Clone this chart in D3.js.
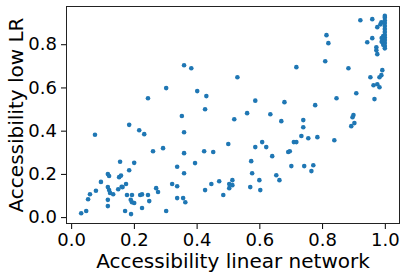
<!DOCTYPE html>
<html>
<head>
<meta charset="utf-8">
<script src="https://cdn.jsdelivr.net/npm/d3@7"></script>
<style>
  body { margin: 0; background: #fff; }
  text { font-family: "DejaVu Sans", sans-serif; fill: #000; }
</style>
</head>
<body>
<svg id="chart"></svg>
<script>
// accessibility of each node: linear network (x) vs low LR (y)
const linearAcc = [
  0.245, 0.185, 0.217, 0.233, 0.076, 0.261, 0.293, 0.156, 0.201, 0.185,
  0.338, 0.117, 0.121, 0.153, 0.159, 0.095, 0.175, 0.161, 0.164, 0.117,
  0.150, 0.121, 0.079, 0.060, 0.124, 0.134, 0.271, 0.277, 0.322, 0.338,
  0.178, 0.194, 0.220, 0.226, 0.245, 0.054, 0.117, 0.190, 0.194, 0.201,
  0.249, 0.338, 0.117, 0.226, 0.048, 0.032, 0.172, 0.191, 0.303,
  0.587, 0.680, 0.353, 0.427, 0.561, 0.635, 0.520, 0.670, 0.360, 0.501,
  0.424, 0.453, 0.360, 0.609, 0.587, 0.622, 0.692, 0.697, 0.641, 0.574,
  0.395, 0.702, 0.360, 0.577, 0.654, 0.664, 0.600, 0.514, 0.472, 0.447,
  0.504, 0.514, 0.504, 0.571, 0.427, 0.603, 0.485, 0.357, 0.364,
  0.778, 0.740, 0.740, 0.900, 0.897, 0.903, 0.893, 0.734, 0.756, 0.785,
  0.839, 0.710, 0.718, 0.743, 0.772, 0.766,
  0.360, 0.383, 0.303, 0.402, 0.431,
  0.814, 0.820, 0.810, 0.718, 0.530, 0.846,
  0.922, 0.960, 0.976, 0.986, 0.989, 0.960, 0.944, 0.973, 0.973, 0.976,
  0.884, 0.992, 0.989, 0.983, 0.954, 0.964, 0.976, 0.983, 0.909, 0.967,
  1.000, 1.000, 1.000, 1.000, 1.000, 1.000, 1.000, 1.000, 1.000, 1.000,
  1.000, 1.000, 1.000, 0.995, 0.995, 0.995, 0.990, 0.990
];
const lowLrAcc = [
  0.550, 0.427, 0.402, 0.384, 0.381, 0.305, 0.319, 0.256, 0.251, 0.217,
  0.233, 0.199, 0.190, 0.185, 0.192, 0.163, 0.153, 0.140, 0.139, 0.139,
  0.129, 0.125, 0.122, 0.106, 0.112, 0.106, 0.134, 0.116, 0.153, 0.143,
  0.102, 0.102, 0.102, 0.105, 0.102, 0.083, 0.080, 0.080, 0.069, 0.065,
  0.074, 0.088, 0.051, 0.042, 0.028, 0.018, 0.028, 0.014, 0.028,
  0.539, 0.532, 0.468, 0.499, 0.481, 0.476, 0.453, 0.444, 0.393, 0.338,
  0.305, 0.301, 0.296, 0.347, 0.324, 0.324, 0.301, 0.305, 0.282, 0.259,
  0.250, 0.236, 0.203, 0.203, 0.194, 0.171, 0.171, 0.171, 0.166, 0.153,
  0.153, 0.148, 0.134, 0.139, 0.125, 0.125, 0.102, 0.088, 0.069,
  0.518, 0.449, 0.416, 0.472, 0.462, 0.435, 0.421, 0.375, 0.365, 0.370,
  0.356, 0.347, 0.347, 0.236, 0.240, 0.213,
  0.703, 0.689, 0.597, 0.583, 0.560,
  0.842, 0.805, 0.721, 0.694, 0.647, 0.550,
  0.911, 0.916, 0.879, 0.892, 0.902, 0.828, 0.809, 0.786, 0.772, 0.754,
  0.689, 0.680, 0.657, 0.647, 0.647, 0.610, 0.615, 0.601, 0.573, 0.546,
  0.931, 0.922, 0.910, 0.898, 0.884, 0.870, 0.857, 0.843, 0.831, 0.820,
  0.806, 0.792, 0.781, 0.838, 0.815, 0.797, 0.829, 0.811
];
const xTicks = [0.0, 0.2, 0.4, 0.6, 0.8, 1.0];
const yTicks = [0.0, 0.2, 0.4, 0.6, 0.8];
const xLabel = "Accessibility linear network";
const yLabel = "Accessibility low LR";

const width = 407, height = 279;
const margin = {left: 66, right: 7, top: 6, bottom: 55};

const points = linearAcc.map((v, i) => ({x: v, y: lowLrAcc[i]}));

const svg = d3.select("#chart").attr("width", width).attr("height", height);

// matplotlib style 5% padding around the data
function padded(vals) {
    const [lo, hi] = d3.extent(vals);
    const pad = (hi - lo) * 0.05;
    return [lo - pad, hi + pad];
}

const xScale = d3.scaleLinear()
    .domain(padded(linearAcc))
    .range([margin.left, width - margin.right]);

const yScale = d3.scaleLinear()
    .domain(padded(lowLrAcc))
    .range([height - margin.bottom, margin.top]);

const xAxis = svg.append("g")
    .attr("transform", `translate(0,${height - margin.bottom})`)
    .call(d3.axisBottom(xScale).tickValues(xTicks).tickFormat(d3.format(".1f")).tickSize(5).tickPadding(4));

const yAxis = svg.append("g")
    .attr("transform", `translate(${margin.left},0)`)
    .call(d3.axisLeft(yScale).tickValues(yTicks).tickFormat(d3.format(".1f")).tickSize(5).tickPadding(4));

[xAxis, yAxis].forEach(ax => {
    ax.select(".domain").remove();
    ax.selectAll("line").attr("stroke", "#000").attr("stroke-width", 1);
    ax.selectAll("text").attr("font-size", 18).attr("font-family", "DejaVu Sans");
});

svg.append("g")
    .selectAll("circle")
    .data(points).enter()
    .append("circle")
    .attr("cx", d => xScale(d.x))
    .attr("cy", d => yScale(d.y))
    .attr("r", 2.3)
    .attr("fill", "#1f77b4");

// frame
svg.append("rect")
    .attr("x", margin.left + 0.5)
    .attr("y", margin.top + 0.5)
    .attr("width", width - margin.left - margin.right - 1)
    .attr("height", height - margin.top - margin.bottom - 1)
    .attr("fill", "none")
    .attr("stroke", "#222")
    .attr("stroke-width", 1);

svg.append("text")
    .attr("x", (margin.left + width - margin.right) / 2)
    .attr("y", 268)
    .attr("text-anchor", "middle")
    .attr("font-size", 20)
    .text(xLabel);

svg.append("text")
    .attr("transform", `translate(23,${(margin.top + height - margin.bottom) / 2}) rotate(-90)`)
    .attr("text-anchor", "middle")
    .attr("font-size", 20)
    .text(yLabel);
</script>
</body>
</html>
